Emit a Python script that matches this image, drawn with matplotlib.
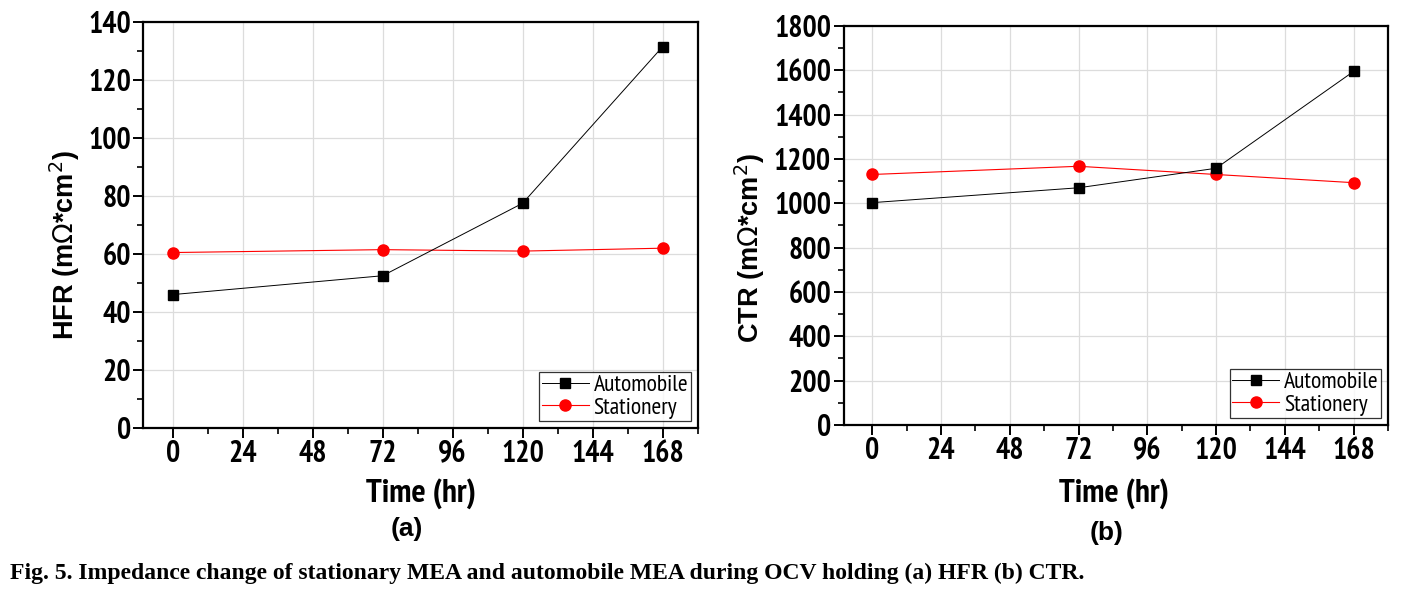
import matplotlib
matplotlib.use("Agg")
import matplotlib.pyplot as plt
import matplotlib.patheffects as pe
from matplotlib import font_manager
from matplotlib.ticker import MultipleLocator

time_hr = [0, 72, 120, 168]

hfr_automobile = [46.0, 52.5, 77.5, 131.5]
hfr_stationery = [60.5, 61.5, 61.0, 62.0]

ctr_automobile = [1003, 1070, 1158, 1595]
ctr_stationery = [1130, 1167, 1130, 1093]

x_ticks = [0, 24, 48, 72, 96, 120, 144, 168]


def weight_of(f):
    w = f.weight
    return w if isinstance(w, int) else font_manager.weight_dict.get(w, 400)


# a narrow sans if one is around; thicken it with a stroke if it has no bold face
narrow_fonts = [f for f in font_manager.fontManager.ttflist if "Narrow" in f.name]
narrow_bold = sorted({f.name for f in narrow_fonts if weight_of(f) >= 600})
narrow_any = sorted({f.name for f in narrow_fonts})
narrow = (narrow_bold or narrow_any)[:1] + ["Liberation Sans", "DejaVu Sans"]
wide = ["Liberation Sans", "DejaVu Sans"]
serif = ["Liberation Serif", "DejaVu Serif"]
tick_size = 21.5 if narrow_any else 16
fake_bold = [] if (narrow_bold or not narrow_any) else \
    [pe.withStroke(linewidth=1.2, foreground="black")]

fig = plt.figure(figsize=(14.04, 5.90), dpi=100)

ax_a = fig.add_axes([0.1022, 0.2746, 0.3947, 0.6881])
ax_b = fig.add_axes([0.6008, 0.2797, 0.3878, 0.6763])


def draw_panel(ax, auto, stat, ymax, ymajor, ylabel, ylab_xy, xlab_xy, tag, tag_xy):
    ax.plot(time_hr, stat, color="#ff0000", lw=0.8, marker="o", ms=8,
            mec="#ff0000", mfc="#ff0000", label="Stationery", zorder=3)
    ax.plot(time_hr, auto, color="black", lw=0.7, marker="s", ms=7,
            label="Automobile", zorder=4)

    ax.set_xlim(-10, 180)
    ax.set_ylim(0, ymax)
    ax.set_xticks(x_ticks)
    ax.xaxis.set_minor_locator(MultipleLocator(12))
    ax.yaxis.set_major_locator(MultipleLocator(ymajor))
    ax.yaxis.set_minor_locator(MultipleLocator(ymajor / 2))
    ax.grid(True, which="major", color="#dcdcdc", lw=0.9)
    ax.set_axisbelow(True)

    for sp in ax.spines.values():
        sp.set_linewidth(1.6)
    ax.tick_params(which="major", direction="out", length=7, width=1.4,
                   labelsize=tick_size, pad=2)
    ax.tick_params(which="minor", direction="out", length=4, width=1.2)
    for lab in ax.get_xticklabels() + ax.get_yticklabels():
        lab.set_family(narrow)
        lab.set_fontweight("bold")
        lab.set_path_effects(fake_bold)

    ax.set_xlabel("Time (hr)", fontsize=24, fontweight="bold", family=narrow,
                  path_effects=fake_bold)
    ax.xaxis.set_label_coords(*xlab_xy)
    ax.set_ylabel(ylabel, fontsize=19.5, fontweight="bold", family=wide)
    ax.yaxis.set_label_coords(*ylab_xy)

    handles, labels = ax.get_legend_handles_labels()
    leg = ax.legend(handles[::-1], labels[::-1], loc="lower right",
                    prop={"family": narrow, "size": 17}, frameon=True,
                    fancybox=False, edgecolor="black", handlelength=2.0,
                    handletextpad=0.2, borderpad=0.1, labelspacing=0.05,
                    borderaxespad=0.3)
    leg.get_frame().set_linewidth(0.9)

    ax.text(tag_xy[0], tag_xy[1], tag, transform=ax.transAxes, ha="center",
            va="center", fontsize=19, fontweight="bold", family=wide)


draw_panel(ax_a, hfr_automobile, hfr_stationery, 140, 20,
           r"HFR (m$\Omega$*cm$^2$)", (-0.111, 0.45), (0.50, -0.124),
           "(a)", (0.476, -0.248))
draw_panel(ax_b, ctr_automobile, ctr_stationery, 1800, 200,
           r"CTR (m$\Omega$*cm$^2$)", (-0.141, 0.444), (0.497, -0.133),
           "(b)", (0.483, -0.27))

fig.text(0.007, 0.028, "Fig. 5. Impedance change of stationary MEA and automobile MEA "
         "during OCV holding (a) HFR (b) CTR.", fontsize=17, fontweight="bold",
         family=serif, ha="left", va="center")

fig.savefig("out.png", dpi=100)
